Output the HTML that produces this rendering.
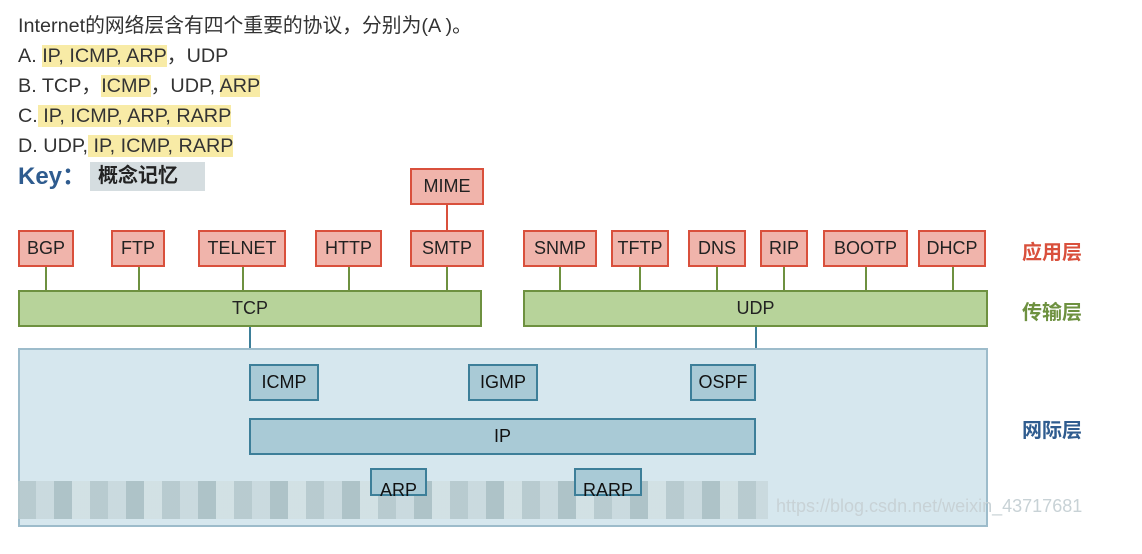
<!DOCTYPE html>
<html><head><meta charset="utf-8"><style>
body{margin:0;width:1142px;height:554px;background:#fff;position:relative;overflow:hidden;font-family:"Liberation Sans","Noto Sans CJK SC",sans-serif}
.t{position:absolute;left:18px;font-size:19.8px;color:#333;line-height:24px;white-space:pre}
.h{background:#f8eba6}
.b{position:absolute;box-sizing:border-box;display:flex;align-items:center;justify-content:center;font-size:18px;color:#222}
.r{background:#f0b4ab;border:2px solid #d9503c;height:37px;top:230px}
.g{background:#b7d39a;border:2px solid #6e9140;height:37px;top:290px}
.n{background:#a9cad6;border:2px solid #3d7f99;height:37px;color:#111}
.v{position:absolute;width:2px;background:#6e9140}
.lab{position:absolute;left:1022px;font-size:20px;font-weight:bold}
</style></head><body>
<div class="t" style="top:14px">Internet的网络层含有四个重要的协议，分别为(A )。</div>
<div class="t" style="top:44px">A. <span class="h">IP, ICMP, ARP</span>，UDP</div>
<div class="t" style="top:74px">B. TCP，<span class="h">ICMP</span>，UDP, <span class="h">ARP</span></div>
<div class="t" style="top:104px">C.<span class="h"> IP, ICMP, ARP, RARP</span></div>
<div class="t" style="top:134px">D. UDP,<span class="h"> IP, ICMP, RARP</span></div>
<div style="position:absolute;left:18px;top:156px;font-size:24px;font-weight:bold;color:#2f5c8f">Key：</div>
<div style="position:absolute;left:90px;top:162px;width:115px;height:29px;background:#d5dde0;font-size:20px;font-weight:bold;color:#222;line-height:29px;padding-left:8px;box-sizing:border-box">概念记忆</div>

<div class="v" style="left:446px;top:204px;height:26px;background:#d9503c"></div>
<div class="b r" style="left:410px;top:168px;width:74px">MIME</div>
<div class="v" style="left:45px;top:267px;height:23px"></div>
<div class="v" style="left:138px;top:267px;height:23px"></div>
<div class="v" style="left:242px;top:267px;height:23px"></div>
<div class="v" style="left:348px;top:267px;height:23px"></div>
<div class="v" style="left:446px;top:267px;height:23px"></div>
<div class="v" style="left:559px;top:267px;height:23px"></div>
<div class="v" style="left:639px;top:267px;height:23px"></div>
<div class="v" style="left:716px;top:267px;height:23px"></div>
<div class="v" style="left:783px;top:267px;height:23px"></div>
<div class="v" style="left:865px;top:267px;height:23px"></div>
<div class="v" style="left:952px;top:267px;height:23px"></div>

<div class="b r" style="left:18px;width:56px">BGP</div>
<div class="b r" style="left:111px;width:54px">FTP</div>
<div class="b r" style="left:198px;width:88px">TELNET</div>
<div class="b r" style="left:315px;width:67px">HTTP</div>
<div class="b r" style="left:410px;width:74px">SMTP</div>
<div class="b r" style="left:523px;width:74px">SNMP</div>
<div class="b r" style="left:611px;width:58px">TFTP</div>
<div class="b r" style="left:688px;width:58px">DNS</div>
<div class="b r" style="left:760px;width:48px">RIP</div>
<div class="b r" style="left:823px;width:85px">BOOTP</div>
<div class="b r" style="left:918px;width:68px">DHCP</div>

<div class="b g" style="left:18px;width:464px">TCP</div>
<div class="b g" style="left:523px;width:465px">UDP</div>

<div class="v" style="left:249px;top:327px;height:22px;background:#3d7f99"></div>
<div class="v" style="left:755px;top:327px;height:22px;background:#3d7f99"></div>

<div style="position:absolute;left:18px;top:348px;width:970px;height:179px;background:#d6e7ee;border:2px solid #9dbccb;box-sizing:border-box"></div>
<div class="b n" style="left:249px;top:364px;width:70px">ICMP</div>
<div class="b n" style="left:468px;top:364px;width:70px">IGMP</div>
<div class="b n" style="left:690px;top:364px;width:66px">OSPF</div>
<div class="b n" style="left:249px;top:418px;width:507px">IP</div>
<div style="position:absolute;left:18px;top:481px;width:750px;height:38px;background:repeating-linear-gradient(90deg,#b5c8cc 0 18px,#c9d9dd 18px 36px,#a9bfc4 36px 54px,#d2e0e3 54px 72px);opacity:.9"></div>
<div class="b n" style="left:370px;top:468px;width:57px;height:28px;align-items:flex-start;padding-top:10px;overflow:visible">ARP</div>
<div class="b n" style="left:574px;top:468px;width:68px;height:28px;align-items:flex-start;padding-top:10px;overflow:visible">RARP</div>
<div style="position:absolute;left:776px;top:496px;font-size:18px;color:#c8d2d6">https://blog.csdn.net/weixin_43717681</div>

<div class="lab" style="top:236px;color:#d9503c">应用层</div>
<div class="lab" style="top:296px;color:#6e9140">传输层</div>
<div class="lab" style="top:414px;color:#2f5c8f">网际层</div>
</body></html>
